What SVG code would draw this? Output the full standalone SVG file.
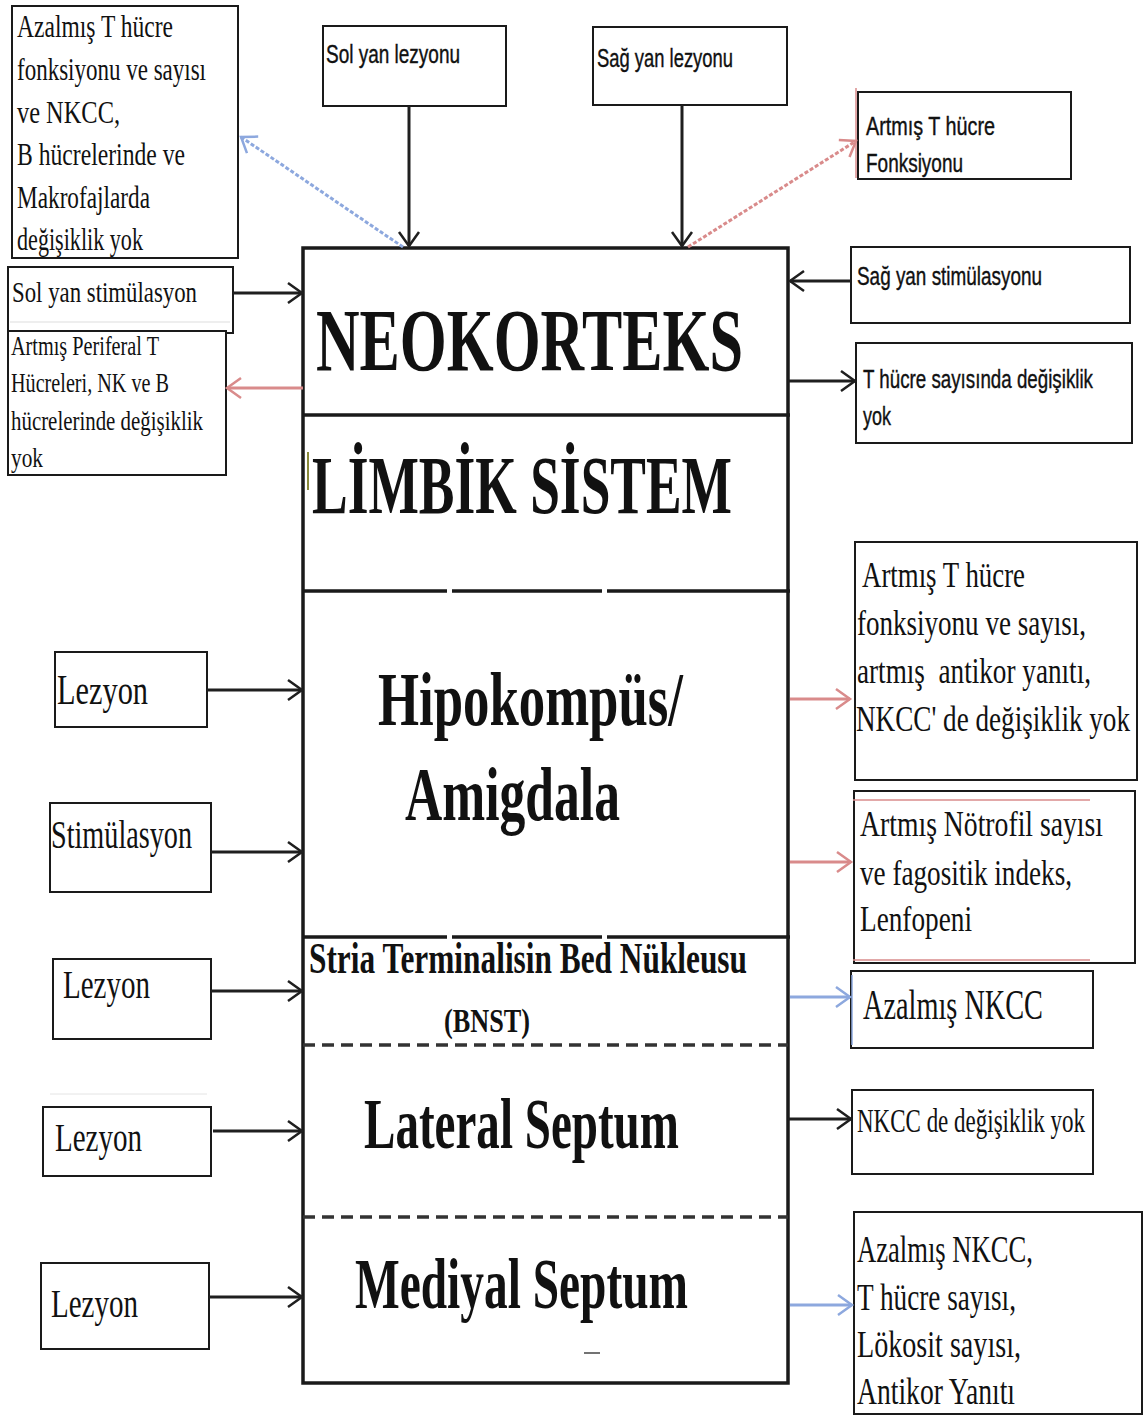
<svg xmlns="http://www.w3.org/2000/svg" width="1144" height="1416" viewBox="0 0 1144 1416">
<style>
.box{fill:#fff;stroke:#1a1a1a;stroke-width:2}
.s{font-family:"Liberation Serif","Times New Roman",serif;fill:#111}
.ss{font-family:"Liberation Sans Narrow","Liberation Sans",Arial,sans-serif;fill:#111;stroke:#111;stroke-width:0.4}
.b{font-weight:bold}
.ck{fill:none;stroke:#1f1f1f;stroke-width:3}
.cr{fill:none;stroke:#d98b8b;stroke-width:3}
.cb{fill:none;stroke:#8da8de;stroke-width:3}
</style>
<defs>
<marker id="mk" markerUnits="userSpaceOnUse" markerWidth="22" markerHeight="26" refX="17" refY="13" orient="auto"><path d="M3,3 L17,13 L3,23" fill="none" stroke="#1f1f1f" stroke-width="2.5"/></marker>
<marker id="mr" markerUnits="userSpaceOnUse" markerWidth="22" markerHeight="26" refX="17" refY="13" orient="auto"><path d="M3,3 L17,13 L3,23" fill="none" stroke="#d98b8b" stroke-width="2.5"/></marker>
<marker id="mb" markerUnits="userSpaceOnUse" markerWidth="22" markerHeight="26" refX="17" refY="13" orient="auto"><path d="M3,3 L17,13 L3,23" fill="none" stroke="#8da8de" stroke-width="2.5"/></marker>
</defs>
<rect width="1144" height="1416" fill="#fff"/>

<g id="central">
<rect x="303" y="248" width="485" height="1135" fill="#fff" stroke="#1a1a1a" stroke-width="3.5"/>
<line x1="303" y1="415" x2="790" y2="415" stroke="#1a1a1a" stroke-width="3.5"/>
<line x1="303" y1="591" x2="790" y2="591" stroke="#1a1a1a" stroke-width="3.5" stroke-dasharray="144 5 150 5 200"/>
<line x1="303" y1="937" x2="790" y2="937" stroke="#1a1a1a" stroke-width="3.5" stroke-dasharray="144 5 150 5 200"/>
<line x1="303" y1="1045" x2="788" y2="1045" stroke="#333" stroke-width="3.5" stroke-dasharray="12 7"/>
<line x1="303" y1="1217" x2="788" y2="1217" stroke="#333" stroke-width="3.5" stroke-dasharray="12 7"/>
<line x1="308" y1="452" x2="308" y2="490" stroke="#8a8a3a" stroke-width="2"/>
<line x1="584" y1="1353" x2="600" y2="1353" stroke="#444" stroke-width="1.5"/>
<text class="s b" x="316" y="370" font-size="88" textLength="427" lengthAdjust="spacingAndGlyphs">NEOKORTEKS</text>
<text class="s b" x="312" y="513" font-size="82" textLength="420" lengthAdjust="spacingAndGlyphs">LİMBİK SİSTEM</text>
<text class="s b" x="378" y="725" font-size="76" textLength="305" lengthAdjust="spacingAndGlyphs">Hipokompüs/</text>
<text class="s b" x="405" y="820" font-size="76" textLength="215" lengthAdjust="spacingAndGlyphs">Amigdala</text>
<text class="s b" x="309" y="973" font-size="44" textLength="438" lengthAdjust="spacingAndGlyphs">Stria Terminalisin Bed Nükleusu</text>
<text class="s b" x="444" y="1032" font-size="34" textLength="86" lengthAdjust="spacingAndGlyphs">(BNST)</text>
<text class="s b" x="364" y="1148" font-size="72" textLength="315" lengthAdjust="spacingAndGlyphs">Lateral Septum</text>
<text class="s b" x="355" y="1308" font-size="72" textLength="333" lengthAdjust="spacingAndGlyphs">Mediyal Septum</text>
</g>

<g id="n-azalmis-t">
<rect class="box" x="12" y="6" width="226" height="252"/>
<text class="s" x="17" y="37" font-size="32" textLength="156" lengthAdjust="spacingAndGlyphs">Azalmış T hücre</text>
<text class="s" x="17" y="80" font-size="32" textLength="189" lengthAdjust="spacingAndGlyphs">fonksiyonu ve sayısı</text>
<text class="s" x="17" y="123" font-size="32" textLength="103" lengthAdjust="spacingAndGlyphs">ve NKCC,</text>
<text class="s" x="17" y="165" font-size="32" textLength="168" lengthAdjust="spacingAndGlyphs">B hücrelerinde ve</text>
<text class="s" x="17" y="208" font-size="32" textLength="133" lengthAdjust="spacingAndGlyphs">Makrofajlarda</text>
<text class="s" x="17" y="250" font-size="32" textLength="126" lengthAdjust="spacingAndGlyphs">değişiklik yok</text>
</g>

<g id="n-sol-stim">
<rect class="box" x="8" y="267" width="225" height="66"/>
<line x1="10" y1="322" x2="230" y2="322" stroke="#ddd" stroke-width="1"/>
<text class="s" x="12" y="302" font-size="30" textLength="185" lengthAdjust="spacingAndGlyphs">Sol yan stimülasyon</text>
</g>

<g id="n-periferal">
<rect class="box" x="8" y="331" width="218" height="144"/>
<text class="s" x="11" y="355" font-size="27" textLength="148" lengthAdjust="spacingAndGlyphs">Artmış Periferal T</text>
<text class="s" x="11" y="392" font-size="27" textLength="158" lengthAdjust="spacingAndGlyphs">Hücreleri, NK ve B</text>
<text class="s" x="11" y="430" font-size="27" textLength="192" lengthAdjust="spacingAndGlyphs">hücrelerinde değişiklik</text>
<text class="s" x="11" y="467" font-size="27" textLength="32" lengthAdjust="spacingAndGlyphs">yok</text>
</g>

<g id="n-sol-lez">
<rect class="box" x="323" y="26" width="183" height="80"/>
<text class="ss" x="326" y="63" font-size="26" textLength="134" lengthAdjust="spacingAndGlyphs">Sol yan lezyonu</text>
</g>

<g id="n-sag-lez">
<rect class="box" x="593" y="27" width="194" height="78"/>
<text class="ss" x="597" y="67" font-size="26" textLength="136" lengthAdjust="spacingAndGlyphs">Sağ yan lezyonu</text>
</g>

<g id="n-artmis-t-fonk">
<rect class="box" x="858" y="92" width="213" height="87"/>
<line x1="856" y1="88" x2="856" y2="178" stroke="#d98b8b" stroke-width="1.5"/>
<text class="ss" x="866" y="135" font-size="26" textLength="129" lengthAdjust="spacingAndGlyphs">Artmış T hücre</text>
<text class="ss" x="866" y="172" font-size="26" textLength="97" lengthAdjust="spacingAndGlyphs">Fonksiyonu</text>
</g>

<g id="n-sag-stim">
<rect class="box" x="851" y="247" width="279" height="76"/>
<text class="ss" x="857" y="285" font-size="26" textLength="185" lengthAdjust="spacingAndGlyphs">Sağ yan stimülasyonu</text>
</g>

<g id="n-t-sayi">
<rect class="box" x="856" y="343" width="276" height="100"/>
<text class="ss" x="863" y="388" font-size="26" textLength="230" lengthAdjust="spacingAndGlyphs">T hücre sayısında değişiklik</text>
<text class="ss" x="863" y="425" font-size="26" textLength="28" lengthAdjust="spacingAndGlyphs">yok</text>
</g>

<g id="n-hipo-out1">
<rect class="box" x="855" y="542" width="282" height="238"/>
<text class="s" x="862" y="587" font-size="35" textLength="163" lengthAdjust="spacingAndGlyphs">Artmış T hücre</text>
<text class="s" x="857" y="635" font-size="35" textLength="229" lengthAdjust="spacingAndGlyphs">fonksiyonu ve sayısı,</text>
<text class="s" x="857" y="683" font-size="35" textLength="234" lengthAdjust="spacingAndGlyphs" xml:space="preserve">artmış  antikor yanıtı,</text>
<text class="s" x="856" y="731" font-size="35" textLength="274" lengthAdjust="spacingAndGlyphs">NKCC' de değişiklik yok</text>
</g>

<g id="n-hipo-out2">
<rect class="box" x="854" y="791" width="281" height="172"/>
<line x1="853" y1="800" x2="1090" y2="800" stroke="#d98b8b" stroke-width="1.5"/>
<line x1="853" y1="960" x2="1090" y2="960" stroke="#d98b8b" stroke-width="1.5"/>
<text class="s" x="860" y="836" font-size="35" textLength="243" lengthAdjust="spacingAndGlyphs">Artmış Nötrofil sayısı</text>
<text class="s" x="860" y="885" font-size="35" textLength="212" lengthAdjust="spacingAndGlyphs">ve fagositik indeks,</text>
<text class="s" x="860" y="931" font-size="35" textLength="112" lengthAdjust="spacingAndGlyphs">Lenfopeni</text>
</g>

<g id="n-bnst-out">
<rect class="box" x="851" y="971" width="242" height="77"/>
<line x1="852" y1="975" x2="852" y2="1045" stroke="#8da8de" stroke-width="1.5"/>
<text class="s" x="863" y="1019" font-size="42" textLength="180" lengthAdjust="spacingAndGlyphs">Azalmış NKCC</text>
</g>

<g id="n-lat-out">
<rect class="box" x="852" y="1090" width="241" height="84"/>
<text class="s" x="857" y="1132" font-size="33" textLength="228" lengthAdjust="spacingAndGlyphs">NKCC de değişiklik yok</text>
</g>

<g id="n-med-out">
<rect class="box" x="854" y="1212" width="288" height="202"/>
<text class="s" x="857" y="1262" font-size="38" textLength="176" lengthAdjust="spacingAndGlyphs">Azalmış NKCC,</text>
<text class="s" x="857" y="1310" font-size="38" textLength="159" lengthAdjust="spacingAndGlyphs">T hücre sayısı,</text>
<text class="s" x="857" y="1357" font-size="38" textLength="164" lengthAdjust="spacingAndGlyphs">Lökosit sayısı,</text>
<text class="s" x="857" y="1404" font-size="38" textLength="158" lengthAdjust="spacingAndGlyphs">Antikor Yanıtı</text>
</g>

<g id="n-lez1">
<rect class="box" x="55" y="652" width="152" height="75"/>
<text class="s" x="57" y="704" font-size="42" textLength="91" lengthAdjust="spacingAndGlyphs">Lezyon</text>
</g>
<g id="n-stim">
<rect class="box" x="50" y="803" width="161" height="89"/>
<text class="s" x="51" y="848" font-size="40" textLength="141" lengthAdjust="spacingAndGlyphs">Stimülasyon</text>
</g>
<g id="n-lez3">
<rect class="box" x="53" y="959" width="158" height="80"/>
<text class="s" x="63" y="998" font-size="40" textLength="87" lengthAdjust="spacingAndGlyphs">Lezyon</text>
</g>
<g id="n-lez4">
<line x1="50" y1="1094" x2="207" y2="1094" stroke="#e4e4e4" stroke-width="1"/>
<rect class="box" x="43" y="1107" width="168" height="69"/>
<text class="s" x="55" y="1151" font-size="40" textLength="87" lengthAdjust="spacingAndGlyphs">Lezyon</text>
</g>
<g id="n-lez5">
<rect class="box" x="41" y="1263" width="168" height="86"/>
<text class="s" x="51" y="1317" font-size="40" textLength="87" lengthAdjust="spacingAndGlyphs">Lezyon</text>
</g>

<g id="connectors">
<line class="ck" x1="409" y1="106" x2="409" y2="246" marker-end="url(#mk)"/>
<line class="ck" x1="682" y1="105" x2="682" y2="246" marker-end="url(#mk)"/>
<line class="cb" x1="403" y1="247" x2="241" y2="137" stroke-dasharray="4 2" marker-end="url(#mb)"/>
<line class="cr" x1="688" y1="247" x2="856" y2="141" stroke-dasharray="4 2" marker-end="url(#mr)"/>
<line class="ck" x1="233" y1="293" x2="302" y2="293" marker-end="url(#mk)"/>
<line class="cr" x1="303" y1="388" x2="227" y2="388" marker-end="url(#mr)"/>
<line class="ck" x1="207" y1="690" x2="302" y2="690" marker-end="url(#mk)"/>
<line class="ck" x1="211" y1="852" x2="302" y2="852" marker-end="url(#mk)"/>
<line class="ck" x1="211" y1="991" x2="302" y2="991" marker-end="url(#mk)"/>
<line class="ck" x1="213" y1="1131" x2="302" y2="1131" marker-end="url(#mk)"/>
<line class="ck" x1="209" y1="1297" x2="302" y2="1297" marker-end="url(#mk)"/>
<line class="ck" x1="851" y1="281" x2="790" y2="281" marker-end="url(#mk)"/>
<line class="ck" x1="788" y1="381" x2="855" y2="381" marker-end="url(#mk)"/>
<line class="cr" x1="790" y1="699" x2="850" y2="699" marker-end="url(#mr)"/>
<line class="cr" x1="790" y1="862" x2="851" y2="862" marker-end="url(#mr)"/>
<line class="cb" x1="790" y1="997" x2="850" y2="997" marker-end="url(#mb)"/>
<line class="ck" x1="788" y1="1119" x2="851" y2="1119" marker-end="url(#mk)"/>
<line class="cb" x1="790" y1="1305" x2="852" y2="1305" marker-end="url(#mb)"/>
</g>
</svg>
